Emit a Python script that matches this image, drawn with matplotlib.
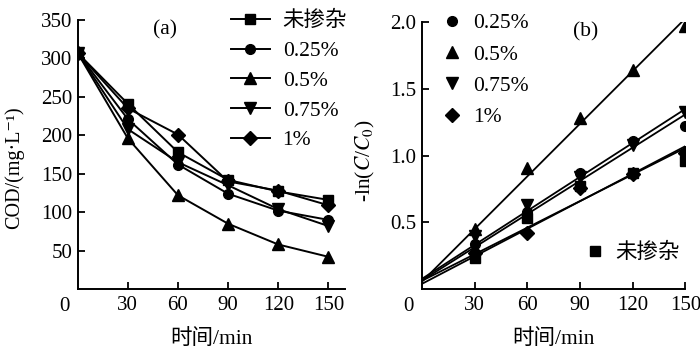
import matplotlib
matplotlib.use('Agg')
import matplotlib.pyplot as plt
import numpy as np

plt.rcParams['font.family'] = ['Liberation Serif', 'Noto Sans CJK SC', 'DejaVu Serif']
plt.rcParams['mathtext.fontset'] = 'stix'
plt.rcParams['font.size'] = 15.5
plt.rcParams['axes.unicode_minus'] = False

# ── 数据 ──
times = [0, 30, 60, 90, 120, 150]
cod_undoped = [307, 241, 178, 142, 127, 116]
cod_025 = [307, 221, 162, 124, 102, 90]
cod_05 = [307, 196, 122, 85, 58, 42]
cod_075 = [307, 208, 165, 135, 104, 82]
cod_1 = [307, 235, 201, 140, 128, 109]

t_fit = [30, 60, 90, 120, 150]
ln_undoped = [0.23, 0.53, 0.77, 0.87, 0.96]
ln_025 = [0.34, 0.58, 0.87, 1.11, 1.22]
ln_05 = [0.45, 0.91, 1.28, 1.64, 1.97]
ln_075 = [0.40, 0.63, 0.84, 1.08, 1.33]
ln_1 = [0.27, 0.42, 0.76, 0.86, 1.02]

labels = ['未掺杂', '0.25%', '0.5%', '0.75%', '1%']
markers = ['s', 'o', '^', 'v', 'D']
msizes = [7, 7, 8, 8, 7]

fig = plt.figure(figsize=(7, 3.5), dpi=100)
ax1 = fig.add_axes([0.111, 0.174, 0.382, 0.769])
ax2 = fig.add_axes([0.603, 0.174, 0.376, 0.763])


def style_axis(ax):
    for s in ['top', 'right']:
        ax.spines[s].set_visible(False)
    for s in ['left', 'bottom']:
        ax.spines[s].set_linewidth(1.4)
    ax.tick_params(direction='in', length=5, width=1.3, labelsize=15)
    ax.tick_params(axis='x', pad=5)
    ax.tick_params(axis='y', pad=4)
    ax.annotate('0', xy=(0, 0), xycoords='axes fraction', xytext=(-9.5, -5.5),
                textcoords='offset points', ha='center', va='top', fontsize=15)
    ax.set_xlabel('时间/min', fontsize=15.5, labelpad=10)


# ── (a) COD 随时间变化 ──
cod_series = [cod_undoped, cod_025, cod_05, cod_075, cod_1]
for vals, lab, m, ms in zip(cod_series, labels, markers, msizes):
    ax1.plot(times, vals, color='black', lw=1.4, marker=m, markersize=ms, label=lab)
ax1.set_xlim(0, 160)
ax1.set_ylim(0, 350)
ax1.set_xticks([30, 60, 90, 120, 150])
ax1.set_yticks([50, 100, 150, 200, 250, 300, 350])
style_axis(ax1)
ax1.set_ylabel('COD/(mg·L⁻¹)', fontsize=14.5)
ax1.yaxis.set_label_coords(-0.2, 0.45)
ax1.text(0.326, 0.963, '(a)', transform=ax1.transAxes, ha='center', va='center', fontsize=15.5)
fig.legend(*ax1.get_legend_handles_labels(), loc='upper left',
           bbox_to_anchor=(0.33, 0.968), frameon=False, borderpad=0, borderaxespad=0,
           handlelength=1.8, handletextpad=0.6, labelspacing=0.45, fontsize=15.5)

# ── (b) 一级动力学拟合 ──
ln_series = [ln_undoped, ln_025, ln_05, ln_075, ln_1]
xx = np.array([0] + t_fit)
handles = []
for vals, lab, m, ms in zip(ln_series, labels, markers, msizes):
    k, b = np.polyfit(xx, np.array([0] + vals), 1)
    ax2.plot([0, 150], [b, k * 150 + b], color='black', lw=1.3, zorder=2)
    h = ax2.plot(t_fit, vals, ls='none', color='black', marker=m, markersize=ms,
                 label=lab, zorder=3)[0]
    handles.append(h)
ax2.set_xlim(0, 150)
ax2.set_ylim(0, 2.0)
ax2.set_xticks([30, 60, 90, 120, 150])
ax2.set_yticks([0.5, 1.0, 1.5, 2.0])
ax2.set_yticklabels(['0.5', '1.0', '1.5', '2.0'])
style_axis(ax2)
ax2.set_ylabel('-ln($C$/$C_0$)', fontsize=15.5)
ax2.yaxis.set_label_coords(-0.172, 0.48)
ax2.text(0.62, 0.963, '(b)', transform=ax2.transAxes, ha='center', va='center', fontsize=15.5)

leg1 = ax2.legend(handles[1:], labels[1:], loc='upper left',
                  bbox_to_anchor=(0.634, 0.962), bbox_transform=fig.transFigure,
                  frameon=False, borderpad=0, borderaxespad=0, handlelength=0.75,
                  handletextpad=0.6, labelspacing=0.52, fontsize=15.5, numpoints=1)
ax2.add_artist(leg1)
ax2.legend(handles[:1], labels[:1], loc='upper left',
           bbox_to_anchor=(0.838, 0.305), bbox_transform=fig.transFigure,
           frameon=False, borderpad=0, borderaxespad=0, handlelength=0.75,
           handletextpad=0.6, fontsize=15.5, numpoints=1)

fig.savefig('out.png', dpi=100, facecolor='white')
